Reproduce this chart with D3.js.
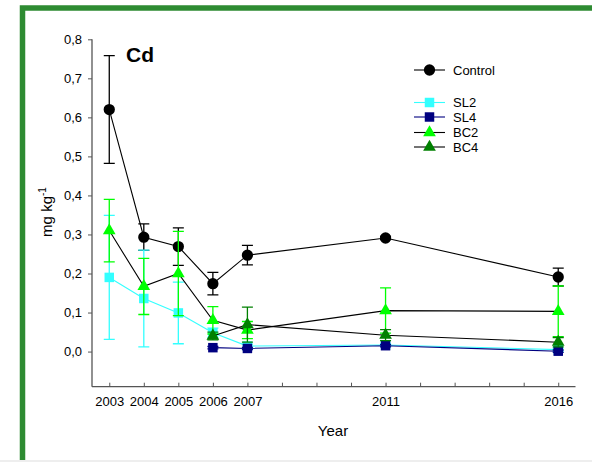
<!DOCTYPE html>
<html><head><meta charset="utf-8">
<script src="https://cdn.jsdelivr.net/npm/d3@7"></script>
<style>body{margin:0;background:#fff;} text{font-family:Arial,"Liberation Sans",sans-serif;}</style>
</head><body>
<svg id="c" width="592" height="462"></svg>
<script>
const years = [2003, 2004, 2005, 2006, 2007, 2011, 2016];
const yearsLate = [2006, 2007, 2011, 2016];
const controlVals = [0.62, 0.293, 0.269, 0.174, 0.247, 0.291, 0.191];
const controlErr  = [0.138, 0.034, 0.048, 0.029, 0.025, 0.004, 0.023];
const sl2Vals = [0.19, 0.136, 0.099, 0.048, 0.014, 0.017, 0.005];
const sl2Err  = [0.159, 0.124, 0.079, 0.012, 0.005, 0.003, 0.004];
const sl4Vals = [0.01, 0.008, 0.015, 0.001];
const sl4Err  = [0.003, 0.003, 0.003, 0.003];
const bc2Vals = [0.31, 0.167, 0.2, 0.08, 0.055, 0.105, 0.103];
const bc2Err  = [0.08, 0.072, 0.108, 0.035, 0.022, 0.058, 0.065];
const bc4Vals = [0.04, 0.069, 0.042, 0.024];
const bc4Err  = [0.01, 0.045, 0.014, 0.012];
const yTicks = [0.0, 0.1, 0.2, 0.3, 0.4, 0.5, 0.6, 0.7, 0.8];
const xTickYears = d3.range(2003, 2017);
const xLabelYears = [2003, 2004, 2005, 2006, 2007, 2011, 2016];

const series = [
  {name:"Control", x:years, v:controlVals, e:controlErr, fill:"#000000", line:"#000000", sym:"circle"},
  {name:"SL2", x:years, v:sl2Vals, e:sl2Err, fill:"#33ffff", line:"#33ffff", sym:"square"},
  {name:"SL4", x:yearsLate, v:sl4Vals, e:sl4Err, fill:"#000080", line:"#000080", sym:"square"},
  {name:"BC2", x:years, v:bc2Vals, e:bc2Err, fill:"#00ff00", line:"#000000", sym:"triangle"},
  {name:"BC4", x:yearsLate, v:bc4Vals, e:bc4Err, fill:"#008000", line:"#000000", sym:"triangle"}
];

const svg = d3.select("#c");
// green frame
svg.append("rect").attr("x",22.5).attr("y",8).attr("width",600).attr("height",470)
  .attr("fill","#fff").attr("stroke","#2e8b32").attr("stroke-width",5.5);
svg.append("rect").attr("x",0).attr("y",460).attr("width",592).attr("height",2).attr("fill","#eeeeee");

const x = d3.scaleLinear().domain([2002.5, 2016.5]).range([92, 575.5]);
const y = d3.scaleLinear().domain([-0.09, 0.8]).range([386.7, 39.3]);

const axisColor = "#555";
const gy = svg.append("g").attr("transform","translate(92,0)")
  .call(d3.axisLeft(y).tickValues(yTicks).tickSize(4).tickPadding(6)
    .tickFormat(d => d3.format(".1f")(d).replace(".", ",")));
const gx = svg.append("g").attr("transform","translate(0,386.7)")
  .call(d3.axisBottom(x).tickValues(xTickYears).tickSize(-4).tickPadding(10.5)
    .tickFormat(d => xLabelYears.includes(d) ? String(d) : ""));
[gx, gy].forEach(g => {
  g.select(".domain").attr("stroke",axisColor).attr("stroke-width",1.3);
  g.selectAll(".tick line").attr("stroke",axisColor);
  g.selectAll("text").attr("font-size",13).attr("fill","#000").attr("font-family","Arial, 'Liberation Sans', sans-serif");
});
gy.select(".domain").attr("d","M0," + y(0.8) + "V386.7");
gx.select(".domain").attr("d","M92,0H575.5");

// labels
svg.append("text").attr("x",333).attr("y",436).attr("text-anchor","middle")
  .attr("font-size",15).text("Year");
const yl = svg.append("text").attr("transform","translate(52,212) rotate(-90)")
  .attr("text-anchor","middle").attr("font-size",15);
yl.append("tspan").text("mg kg");
yl.append("tspan").attr("font-size",10).attr("dy",-6).text("-1");
svg.append("text").attr("x",126).attr("y",61.5).attr("font-size",21).attr("font-weight","bold").text("Cd");

function symPath(s){
  if (s==="circle") return d3.symbol(d3.symbolCircle, 100)();
  if (s==="square") return d3.symbol(d3.symbolSquare, 90)();
  return d3.symbol(d3.symbolTriangle, 70)();
}

const line = d3.line().x(d => x(d[0])).y(d => y(d[1]));
series.forEach(s => {
  const pts = s.x.map((xx,i) => [xx, s.v[i], s.e[i]]);
  const g = svg.append("g");
  g.append("path").datum(pts).attr("d", line).attr("fill","none")
    .attr("stroke", s.line).attr("stroke-width",1.1);
  pts.forEach(p => {
    const cx = x(p[0]), y1 = y(p[1]+p[2]), y2 = y(p[1]-p[2]);
    g.append("path").attr("d",`M${cx},${y1}V${y2}M${cx-5.5},${y1}H${cx+5.5}M${cx-5.5},${y2}H${cx+5.5}`)
      .attr("stroke", s.fill).attr("stroke-width",1.3).attr("fill","none");
  });
  g.selectAll("path.m").data(pts).join("path").attr("class","m")
    .attr("transform", p => `translate(${x(p[0])},${y(p[1])})`)
    .attr("d", symPath(s.sym)).attr("fill", s.fill);
});

// legend
const legY = [70, 102.5, 117, 132.5, 147];
series.forEach((s,i) => {
  const ly = legY[i];
  svg.append("line").attr("x1",414).attr("x2",445).attr("y1",ly).attr("y2",ly)
    .attr("stroke", s.line).attr("stroke-width",1.1);
  svg.append("path").attr("transform",`translate(429.5,${ly})`).attr("d",symPath(s.sym)).attr("fill",s.fill);
  svg.append("text").attr("x",453).attr("y",ly+4.7).attr("font-size",13).text(s.name);
});
</script>
</body></html>
